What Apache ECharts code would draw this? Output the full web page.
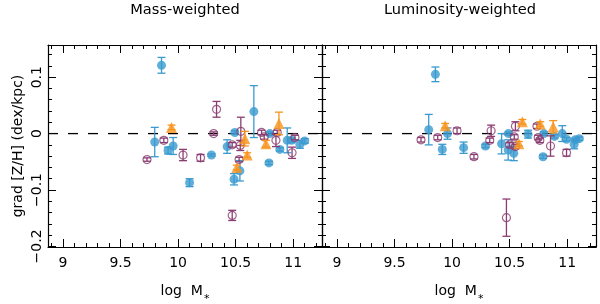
<!DOCTYPE html>
<html><head><meta charset="utf-8">
<script src="https://cdn.jsdelivr.net/npm/echarts@6/dist/echarts.min.js"></script>
<style>html,body{margin:0;padding:0;background:#fff}#c{width:600px;height:304px}</style>
</head><body><div id="c"></div>
<script>
const panelTitles = ['Mass-weighted', 'Luminosity-weighted'];
const xAxisTitle = 'log  M';
const yAxisTitle = 'grad [Z/H] (dex/kpc)';
const xMajorTicks = [9, 9.5, 10, 10.5, 11];
const xTickLabels = ['9', '9.5', '10', '10.5', '11'];
const xMinorTicks = [8.9, 9.1, 9.2, 9.3, 9.4, 9.6, 9.7, 9.8, 9.9, 10.1, 10.2, 10.3, 10.4, 10.6, 10.7, 10.8, 10.9, 11.1, 11.2];
const yMajorTicks = [-0.2, -0.1, 0, 0.1];
const yTickLabels = ['\u22120.2', '\u22120.1', '0', '0.1'];
const yMinorTicks = [-0.18, -0.16, -0.14, -0.12, -0.08, -0.06, -0.04, -0.02, 0.02, 0.04, 0.06, 0.08, 0.12, 0.14];

// [log M*, gradient, error]
const massBlue = [
  [9.856, 0.121, 0.014], [9.797, -0.015, 0.026], [9.913, -0.030, 0.006], [9.957, -0.022, 0.015],
  [10.100, -0.087, 0.007], [10.290, -0.038, 0.002], [10.426, -0.023, 0.012], [10.493, 0.002, 0.003],
  [10.486, -0.081, 0.010], [10.537, -0.066, 0.018], [10.658, 0.039, 0.046], [10.797, 0.000, 0.003],
  [10.789, -0.052, 0.003], [10.884, -0.028, 0.003], [10.948, -0.012, 0.022], [10.986, -0.012, 0.004],
  [11.058, -0.019, 0.007], [11.100, -0.013, 0.004]
];
const massPurple = [
  [9.730, -0.046, 0.003], [9.876, -0.012, 0.004], [10.043, -0.038, 0.010], [10.195, -0.043, 0.006],
  [10.334, 0.043, 0.014], [10.309, 0.000, 0.003], [10.470, -0.020, 0.004], [10.470, -0.145, 0.009],
  [10.545, 0.004, 0.025], [10.540, -0.021, 0.009], [10.530, -0.046, 0.004], [10.725, 0.002, 0.004],
  [10.748, -0.006, 0.004], [10.861, 0.002, 0.004], [10.850, -0.012, 0.011], [10.990, -0.034, 0.010],
  [11.015, -0.007, 0.004]
];
const massOrange = [
  [9.943, 0.011, 0.004], [10.580, -0.009, 0.013], [10.600, -0.038, 0.004], [10.510, -0.060, 0.004],
  [10.763, -0.018, 0.006], [10.876, 0.018, 0.020]
];
const lumBlue = [
  [9.855, 0.105, 0.013], [9.797, 0.007, 0.027], [9.915, -0.028, 0.009], [9.960, 0.000, 0.010],
  [10.100, -0.025, 0.010], [10.290, -0.022, 0.003], [10.430, -0.018, 0.018], [10.487, -0.029, 0.018],
  [10.536, -0.035, 0.013], [10.490, 0.000, 0.003], [10.660, -0.001, 0.007], [10.797, 0.000, 0.003],
  [10.790, -0.041, 0.003], [10.890, -0.005, 0.003], [10.957, 0.000, 0.014], [10.994, -0.010, 0.003],
  [11.070, -0.011, 0.003], [11.060, -0.019, 0.008], [11.105, -0.009, 0.003]
];
const lumPurple = [
  [9.730, -0.011, 0.004], [9.875, -0.007, 0.004], [10.043, 0.005, 0.005], [10.190, -0.041, 0.004],
  [10.339, 0.005, 0.010], [10.327, -0.012, 0.004], [10.472, -0.149, 0.033], [10.550, 0.013, 0.008],
  [10.540, -0.006, 0.004], [10.500, -0.020, 0.004], [10.550, -0.023, 0.004], [10.737, 0.013, 0.004],
  [10.748, -0.007, 0.004], [10.762, -0.012, 0.004], [10.855, -0.022, 0.018], [10.994, -0.034, 0.006]
];
const lumOrange = [
  [9.940, 0.014, 0.004], [10.610, 0.021, 0.004], [10.580, -0.018, 0.004], [10.765, 0.017, 0.004],
  [10.878, 0.012, 0.011]
];

const X_MIN = 8.87, X_MAX = 11.25, Y_MIN = -0.201, Y_MAX = 0.157;
const FONT = 'DejaVu Sans';
const BLUE = '#3a9acf', PURPLE = '#8a3d70', ORANGE = '#f7941d';

const chart = echarts.init(document.getElementById('c'), null, {renderer: 'canvas'});

function labelFor(values, labels) {
  return v => { const i = values.findIndex(t => Math.abs(t - v) < 1e-9); return i >= 0 ? labels[i] : ''; };
}
function mkAxis(kind, g, position, ticks, len, opts) {
  const isX = kind === 'x';
  const a = {
    type: 'value', gridIndex: g, position: position,
    min: isX ? X_MIN : Y_MIN, max: isX ? X_MAX : Y_MAX,
    splitLine: {show: false},
    axisLine: {show: !!(opts && opts.line), onZero: false, lineStyle: {color: '#000', width: 1.2}},
    axisTick: {show: true, inside: true, length: len, customValues: ticks, lineStyle: {color: '#000', width: 1}},
    axisLabel: {show: false},
    z: 5
  };
  if (opts && opts.labels) {
    a.axisLabel = Object.assign({show: true, customValues: ticks, color: '#000', fontFamily: FONT, fontSize: 14,
      formatter: isX ? labelFor(xMajorTicks, xTickLabels) : labelFor(yMajorTicks, yTickLabels)}, opts.labelExtra || {});
  }
  if (opts && opts.name) Object.assign(a, opts.name);
  return a;
}

const xAxes = [], yAxes = [];
for (let g = 0; g < 2; g++) {
  xAxes.push(mkAxis('x', g, 'bottom', xMajorTicks, 8, {line: true, labels: true, labelExtra: {margin: 9},
    name: {name: '{a|' + xAxisTitle + '}{b|*}', nameLocation: 'middle', nameGap: 31,
      nameTextStyle: {color: '#000', fontFamily: FONT, fontSize: 14,
        rich: {a: {color: '#000', fontFamily: FONT, fontSize: 14}, b: {color: '#000', fontFamily: FONT, fontSize: 11, padding: [16, 0, 0, 1]}}}}}));
  xAxes.push(mkAxis('x', g, 'bottom', xMinorTicks, 4, {}));
  xAxes.push(mkAxis('x', g, 'top', xMajorTicks, 8, {line: true}));
  xAxes.push(mkAxis('x', g, 'top', xMinorTicks, 4, {}));
  const yOpts = {line: true};
  if (g === 0) {
    yOpts.labels = true;
    yOpts.labelExtra = {rotate: 90, margin: 4};
    yOpts.name = {name: yAxisTitle, nameLocation: 'middle', nameGap: 23,
      nameTextStyle: {color: '#000', fontFamily: FONT, fontSize: 14}};
  }
  yAxes.push(mkAxis('y', g, 'left', yMajorTicks, 8, yOpts));
  yAxes.push(mkAxis('y', g, 'left', yMinorTicks, 4, {}));
  yAxes.push(mkAxis('y', g, 'right', yMajorTicks, 8, {line: true}));
  yAxes.push(mkAxis('y', g, 'right', yMinorTicks, 4, {}));
}

function errRender(params, api) {
  const x = api.value(0), y = api.value(1), e = api.value(2);
  const t = api.coord([x, y + e]), b = api.coord([x, y - e]);
  const cap = 4;
  const style = {stroke: api.visual('color'), lineWidth: 1.3, fill: null};
  return {type: 'group', children: [
    {type: 'line', shape: {x1: t[0], y1: t[1], x2: b[0], y2: b[1]}, style: style},
    {type: 'line', shape: {x1: t[0] - cap, y1: t[1], x2: t[0] + cap, y2: t[1]}, style: style},
    {type: 'line', shape: {x1: b[0] - cap, y1: b[1], x2: b[0] + cap, y2: b[1]}, style: style}
  ]};
}

const groups = [
  [massBlue, massPurple, massOrange],
  [lumBlue, lumPurple, lumOrange]
];
const series = [];
for (let g = 0; g < 2; g++) {
  const ax = {xAxisIndex: 4 * g, yAxisIndex: 4 * g};
  series.push(Object.assign({type: 'line', data: [[X_MIN, 0], [X_MAX, 0]], showSymbol: false, symbol: 'none',
    lineStyle: {color: '#000', width: 1.3, type: [10, 10]}, silent: true, z: 1}, ax));
  const [blue, purple, orange] = groups[g];
  const specs = [
    [blue, BLUE, {symbol: 'circle', symbolSize: 9, itemStyle: {color: BLUE}}],
    [purple, PURPLE, {symbol: 'circle', symbolSize: 8, itemStyle: {color: 'rgba(0,0,0,0)', borderColor: PURPLE, borderWidth: 1.2}}],
    [orange, ORANGE, {symbol: 'triangle', symbolSize: 11, itemStyle: {color: ORANGE}}]
  ];
  specs.forEach(([d, col, sty], k) => {
    series.push(Object.assign({type: 'custom', renderItem: errRender, data: d, encode: {x: 0, y: 1},
      itemStyle: {color: col}, z: 2 + 2 * k, silent: true}, ax));
    series.push(Object.assign({type: 'scatter', data: d.map(p => [p[0], p[1]]), z: 3 + 2 * k, silent: true}, sty, ax));
  });
}

chart.setOption({
  animation: false,
  backgroundColor: '#fff',
  grid: [
    {left: 48, top: 45, width: 274, height: 202, outerBoundsMode: 'none', containLabel: false},
    {left: 322, top: 45, width: 274, height: 202, outerBoundsMode: 'none', containLabel: false}
  ],
  xAxis: xAxes,
  yAxis: yAxes,
  graphic: [
    {type: 'text', x: 185, y: 10.5, style: {text: panelTitles[0], fontFamily: FONT, fontSize: 14.6, fill: '#000', align: 'center', verticalAlign: 'middle'}},
    {type: 'text', x: 460, y: 10.5, style: {text: panelTitles[1], fontFamily: FONT, fontSize: 14.6, fill: '#000', align: 'center', verticalAlign: 'middle'}}
  ],
  series: series
});
</script></body></html>
